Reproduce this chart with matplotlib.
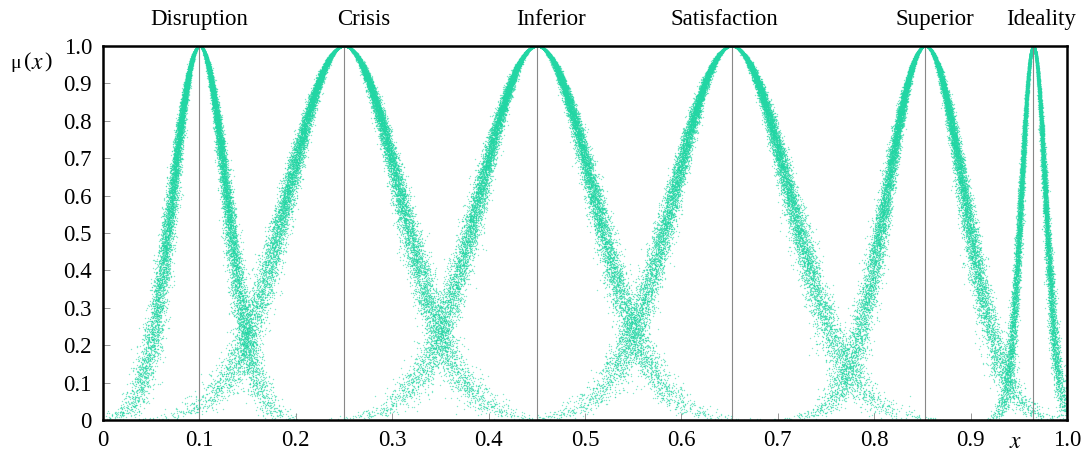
import numpy as np
import matplotlib
matplotlib.use("Agg")
import matplotlib.pyplot as plt

plt.rcParams['font.family'] = ['Liberation Serif', 'DejaVu Serif']
plt.rcParams['mathtext.fontset'] = 'stix'

# cloud parameters (Ex, En, He) for each grade
names = ["Disruption", "Crisis", "Inferior", "Satisfaction", "Superior", "Ideality"]
Ex = [0.10, 0.25, 0.45, 0.652, 0.853, 0.965]
En = [0.028, 0.058, 0.059, 0.060, 0.040, 0.0125]
He = [0.003, 0.0045, 0.0045, 0.0045, 0.0035, 0.0014]
n_drops = 20000
label_x = [0.10, 0.27, 0.465, 0.645, 0.863, 0.973]

xticks = np.round(np.arange(0, 1.01, 0.1), 1)
tick_labels = ["0"] + ["%.1f" % t for t in xticks[1:]]

color = "#22d6a4"
rng = np.random.default_rng(7)

fig = plt.figure(figsize=(10.87, 4.59), dpi=100)
ax = fig.add_axes([0.0948, 0.085, 0.8868, 0.815])

# forward normal cloud generator
for ex, en, he in zip(Ex, En, He):
    en2 = rng.normal(en, he, n_drops)
    x = rng.normal(ex, np.abs(en2))
    mu = np.exp(-(x - ex) ** 2 / (2 * en2 ** 2))
    ax.scatter(x, mu, s=4, marker='.', color=color, alpha=0.55, linewidths=0)
    ax.plot([ex, ex], [0, 1], color="#888888", lw=0.8, zorder=1)

for nm, lx in zip(names, label_x):
    ax.text(lx, 1.07, nm, ha='center', va='center', fontsize=16.5)

ax.set_xlim(0, 1)
ax.set_ylim(0, 1)
ax.set_xticks(xticks)
ax.set_xticklabels(tick_labels)
ax.set_yticks(xticks)
ax.set_yticklabels(tick_labels)
ax.tick_params(direction='in', length=5, width=0.6, color='#888888',
               labelsize=16.5, labelcolor='black', top=False, right=False)
ax.tick_params(axis='x', pad=7)
ax.tick_params(axis='y', pad=8)
for sp in ax.spines.values():
    sp.set_linewidth(1.8)

# y label  μ(x)
ylab_y = 0.862
fig.text(0.0147, ylab_y, "μ", fontsize=14, ha='center', va='center')
fig.text(0.0255, ylab_y, "(", fontsize=16, ha='center', va='center')
fig.text(0.0345, ylab_y, "$x$", fontsize=17, ha='center', va='center')
fig.text(0.0445, ylab_y, ")", fontsize=16, ha='center', va='center')
fig.text(0.934, 0.012, "$x$", fontsize=17, ha='center', va='bottom')

fig.savefig("out.png", dpi=100)
